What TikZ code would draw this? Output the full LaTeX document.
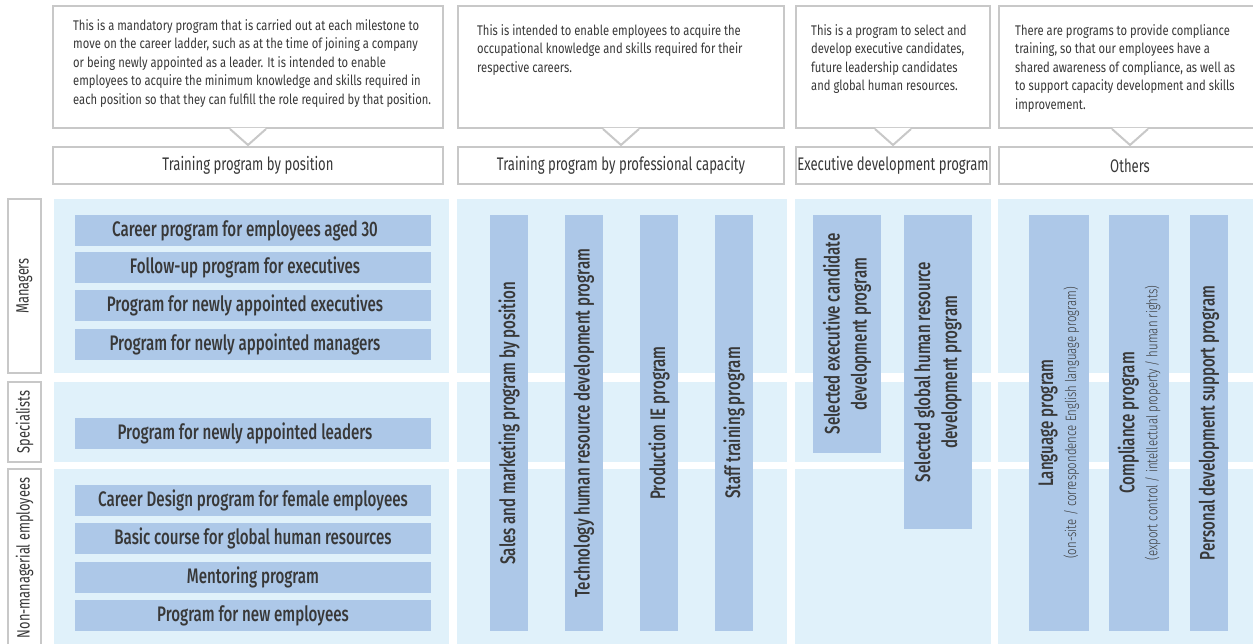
\documentclass[tikz,border=0pt]{standalone}
\usepackage{fontspec}
\usetikzlibrary{calc}
\setmainfont{Fira Sans}[FakeStretch=0.80]
\newfontfamily\headfont{Fira Sans}[FakeStretch=0.72]
\newfontfamily\lightfont{Fira Sans Light}[FakeStretch=0.76]
\newfontfamily\barfont{Fira Sans Medium}[FakeStretch=0.72]

\definecolor{panel}{HTML}{E0F1FA}
\definecolor{barfill}{HTML}{ADC8E8}
\definecolor{rule}{HTML}{C8C8C8}
\definecolor{ink}{HTML}{383838}

% V-shaped pointer joining a description box to its heading box
\newcommand\drawpointer[2]{%
  \fill[white] ($(#1.south)+(-18,-1.2)$) -- ($(#1.south)+(18,-1.2)$) -- ($(#2.north)+(0,-1)$) -- cycle;
  \draw[rulestroke] ($(#1.south)+(-18,0)$) -- ($(#2.north)+(0,-1)$) -- ($(#1.south)+(18,0)$);
}

\begin{document}
\begin{tikzpicture}[x=1pt,y=-1pt,
  rulestroke/.style={draw=rule, line width=2pt, line join=miter},
  callout/.style={rulestroke, fill=white, inner sep=0pt},
  note/.style={inner sep=0pt, align=left, text=ink, font=\fontsize{14}{18.5}\selectfont, anchor=north west},
  header/.style={rulestroke, fill=white, inner sep=0pt, minimum height=37pt, text=ink,
    font=\headfont\fontsize{18.2}{20}\selectfont},
  rowlabel/.style={draw=rule, line width=2.5pt, fill=white, rotate=90, inner sep=0pt,
    minimum height=33pt, text=ink, font=\headfont\fontsize{17.8}{18}\selectfont},
  hbar/.style={fill=barfill, inner sep=0pt, minimum width=356pt, minimum height=31pt, text=ink,
    font=\barfont\fontsize{21}{24}\selectfont},
  lean/.style={execute at end node=\hspace*{16pt}},
  vbar/.style={fill=barfill, inner sep=0pt, rotate=90, align=center, text=ink,
    font=\barfont\fontsize{21}{27}\selectfont}
]
\useasboundingbox (0,0) rectangle (1253,643);
\clip (0,0) rectangle (1253,643);

% ---- light blue grid of panels (rows x columns) ----
\foreach \xa/\xb in {54/449, 457/787, 795/991, 998/1260}
  \foreach \ya/\yb in {199/373, 382/462, 469/650}
    \fill[panel] (\xa,\ya) rectangle (\xb,\yb);

% ---- description boxes and headings ----
\node[callout, minimum width=390pt, minimum height=122pt] (c1) at (248,67) {};
\node[note] (t1) at ($(c1.north west)+(21,14)$) {This is a mandatory program that is carried out at each milestone to\\
move on the career ladder, such as at the time of joining a company\\
or being newly appointed as a leader. It is intended to enable\\
employees to acquire the minimum knowledge and skills required in\\
each position so that they can fulfill the role required by that position.};
\node[header, minimum width=390pt] (h1) at (248,165.5) {Training program by position};
\drawpointer{c1}{h1}

\node[callout, minimum width=326pt, minimum height=122pt] (c2) at (621,67) {};
\node[note] (t2) at ($(c2.north west)+(20,19)$) {This is intended to enable employees to acquire the\\
occupational knowledge and skills required for their\\
respective careers.};
\node[header, minimum width=326pt] (h2) at (621,165.5) {Training program by professional capacity};
\drawpointer{c2}{h2}

\node[callout, minimum width=194pt, minimum height=122pt] (c3) at (893,67) {};
\node[note] (t3) at ($(c3.north west)+(16,19)$) {This is a program to select and\\
develop executive candidates,\\
future leadership candidates\\
and global human resources.};
\node[header, minimum width=194pt] (h3) at (893,165.5) {Executive development program};
\drawpointer{c3}{h3}

\node[callout, minimum width=262pt, minimum height=122pt] (c4) at (1130,67) {};
\node[note] (t4) at ($(c4.north west)+(17,19)$) {There are programs to provide compliance\\
training, so that our employees have a\\
shared awareness of compliance, as well as\\
to support capacity development and skills\\
improvement.};
\node[header, minimum width=262pt] (h4) at (1130,165.5) {Others};
\drawpointer{c4}{h4}

% ---- row labels ----
\node[rowlabel, minimum width=174pt] (rm) at (24.5,286) {Managers};
\node[rowlabel, minimum width=80pt] (rs) at (24.5,422) {Specialists};
\node[rowlabel, minimum width=178pt] (rn) at (24.5,558) {Non-managerial employees};

% ---- training program by position ----
\node[hbar, lean] (m1) at (253,230.5) {Career program for employees aged 30};
\node[hbar, lean] (m2) at (253,267.5) {Follow-up program for executives};
\node[hbar, lean] (m3) at (253,305.5) {Program for newly appointed executives};
\node[hbar, lean] (m4) at (253,344.5) {Program for newly appointed managers};
\node[hbar, lean] (s1) at (253,433.5) {Program for newly appointed leaders};
\node[hbar] (n1) at (253,500.5) {Career Design program for female employees};
\node[hbar] (n2) at (253,538.5) {Basic course for global human resources};
\node[hbar] (n3) at (253,577.5) {Mentoring program};
\node[hbar] (n4) at (253,615.5) {Program for new employees};

% ---- training program by professional capacity ----
\node[vbar, minimum width=416pt, minimum height=38pt] (p1) at (509,423) {Sales and marketing program by position};
\node[vbar, minimum width=416pt, minimum height=38pt] (p2) at (584,423) {Technology human resource development program};
\node[vbar, minimum width=416pt, minimum height=38pt] (p3) at (659,423) {Production IE program};
\node[vbar, minimum width=416pt, minimum height=38pt] (p4) at (734,423) {Staff training program};

% ---- executive development program ----
\node[vbar, minimum width=238pt, minimum height=68pt] (e1) at (847,334) {Selected executive candidate\\development program};
\node[vbar, minimum width=314pt, minimum height=68pt] (e2) at (938,372) {Selected global human resource\\development program};

% ---- others ----
\node[vbar, minimum width=416pt, minimum height=60pt] (o1) at (1059,423) {Language program\\[-4pt]{\lightfont\fontsize{15}{16}\selectfont (on-site / correspondence English language program)}};
\node[vbar, minimum width=416pt, minimum height=60pt] (o2) at (1139,423) {Compliance program\\[-4pt]{\lightfont\fontsize{15}{16}\selectfont (export control / intellectual property / human rights)}};
\node[vbar, minimum width=416pt, minimum height=38pt] (o3) at (1209,423) {Personal development support program};
\end{tikzpicture}
\end{document}
